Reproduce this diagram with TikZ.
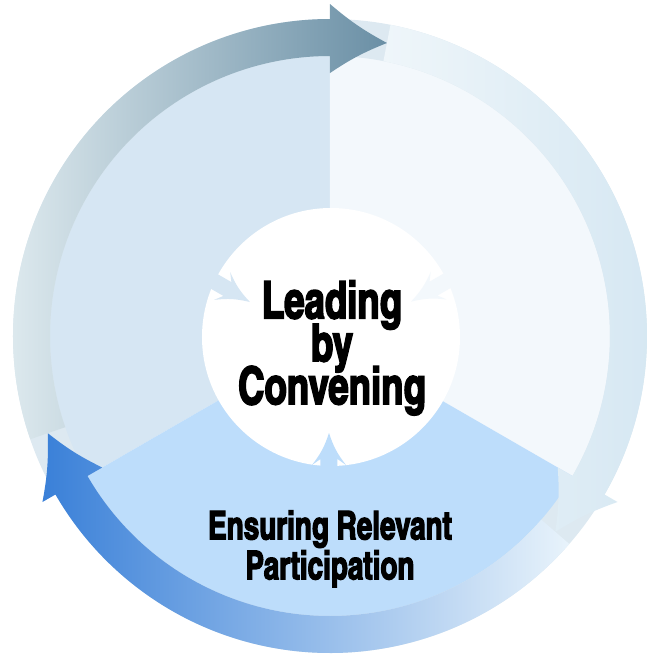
\documentclass[tikz,border=0pt]{standalone}
\usepackage{fontspec}
\newfontfamily\headfont[FakeBold=3,FakeStretch=0.86]{texgyreheroscn-bold.otf}
\newcommand\leadfont{\headfont\fontsize{29.5}{24.4}\selectfont\lineskiplimit=-30pt\relax}
\newcommand\partfont{\headfont\fontsize{22.5}{22.7}\selectfont\lineskiplimit=-30pt\relax}
\definecolor{secleft}{HTML}{D6E6F3}
\definecolor{secright}{HTML}{F3F8FC}
\definecolor{seclow}{HTML}{BDDDFB}
\definecolor{ringpale}{HTML}{DDE9F1}
\definecolor{oneL}{HTML}{E2EDF1}
\definecolor{oneR}{HTML}{6A8FA5}
\definecolor{twoL}{HTML}{EFF6FA}
\definecolor{twoR}{HTML}{D5E7F2}
\definecolor{threeL}{HTML}{3A80D8}
\definecolor{threeR}{HTML}{E8F3FB}
\begin{document}
\begin{tikzpicture}[x=0.02cm,y=0.02cm,
  lead text/.style={font=\leadfont,align=center,inner sep=0pt,anchor=north},
  part text/.style={font=\partfont,align=center,inner sep=0pt,anchor=north}]

  \useasboundingbox (-330,-328) rectangle (320,336);

  % the three sectors
  \fill[secleft] (0,0) -- (90:300) arc[start angle=90,end angle=210,radius=300] -- cycle;
  \fill[secright] (0,0) -- (-30:300) arc[start angle=-30,end angle=90,radius=300] -- cycle;
  \fill[seclow] (0,0) -- (210:300) arc[start angle=210,end angle=330,radius=300] -- cycle;

  % ring and its arrows
  \fill[ringpale,even odd rule] (0,0) circle[radius=317] (0,0) circle[radius=280];
  \shade[left color=twoL,right color=twoR] (79:317) arc[start angle=79,end angle=-30,radius=317]
     -- (-30:332) to[bend right=6] (-41:298.5) to[bend right=6] (-30:263)
     -- (-30:280) arc[start angle=-30,end angle=79,radius=280] -- cycle;
  \shade[left color=threeL,right color=threeR] (-41:317) arc[start angle=-41,end angle=-150,radius=317]
     -- (-150:332) to[bend right=6] (-161:298.5) to[bend right=6] (-150:263)
     -- (-150:280) arc[start angle=-150,end angle=-41,radius=280] -- cycle;
  \shade[left color=oneL,right color=oneR] (199:317) arc[start angle=199,end angle=90,radius=317]
     -- (90:332) to[bend right=6] (79:298.5) to[bend right=6] (90:263)
     -- (90:280) arc[start angle=90,end angle=199,radius=280] -- cycle;

  % hub
  \fill[white] (1,-1) circle[radius=129];

  % small arrows into the hub
  \begin{scope}[shift={(157:87)},rotate=-30]
    \fill[secleft] (0,0) to[bend left=10] (-32,16) -- (-26,8) -- (-70,8) -- (-70,-8) -- (-26,-8) -- (-32,-16) to[bend left=10] cycle;
  \end{scope}
  \begin{scope}[shift={(23:88)},rotate=210]
    \fill[secright] (0,0) to[bend left=10] (-32,16) -- (-26,8) -- (-70,8) -- (-70,-8) -- (-26,-8) -- (-32,-16) to[bend left=10] cycle;
  \end{scope}
  \begin{scope}[shift={(-1,-97)},rotate=90]
    \fill[seclow] (0,0) to[bend left=10] (-32,17) -- (-26,8.5) -- (-70,8.5) -- (-70,-8.5) -- (-26,-8.5) -- (-32,-17) to[bend left=10] cycle;
  \end{scope}

  \node[lead text] (lead) at (2,56) {Leading\\by\\Convening};
  \node[part text] (part) at (0,-174) {Ensuring Relevant\\Participation};
\end{tikzpicture}
\end{document}
